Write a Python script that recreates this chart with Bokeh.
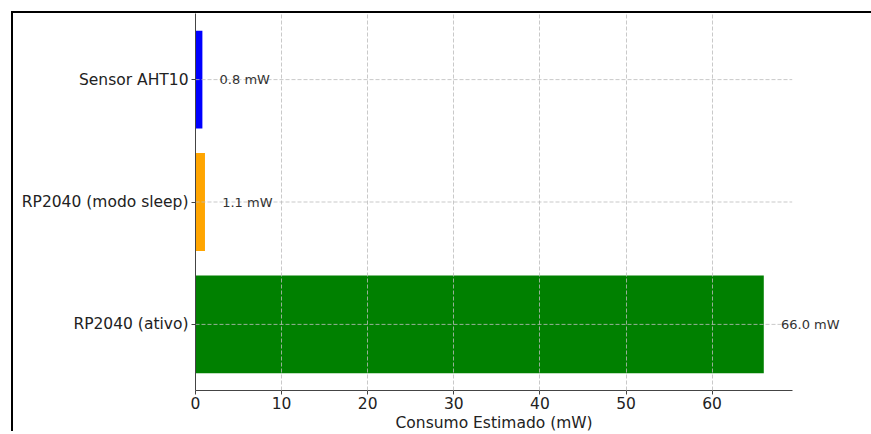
from bokeh.plotting import figure
from bokeh.models import FactorRange, Range1d, LabelSet, ColumnDataSource, FixedTicker, Title
from bokeh.core.properties import value
from bokeh.embed import file_html
from bokeh.resources import INLINE

categories = ["Sensor AHT10", "RP2040 (modo sleep)", "RP2040 (ativo)"]
consumo = [0.8, 1.1, 66.0]
colors = ["blue", "orange", "green"]
labels = [f"{v:.1f} mW" for v in consumo]
x_ticks = [0, 10, 20, 30, 40, 50, 60]
x_label = "Consumo Estimado (mW)"
X_MAX = 69.3      # axis limit (max * 1.05)
X_VIEW = 77.0     # extra room so value labels are not clipped

src = ColumnDataSource(dict(
    cat=categories,
    val=consumo,
    color=colors,
    label=labels,
    lx=[v + 2 for v in consumo],
    g0=[0] * len(categories),
    g1=[X_MAX] * len(categories),
))

FONT = "DejaVu Sans"

p = figure(
    frame_width=663, frame_height=377,
    y_range=FactorRange(factors=categories[::-1], range_padding=0.04,
                        range_padding_units="absolute"),
    x_range=Range1d(0, X_VIEW),
    output_backend="svg", toolbar_location=None,
    min_border_left=182, min_border_right=13, min_border_top=0, min_border_bottom=0,
)
p.margin = (11, 0, 0, 11)
p.styles = {"border-top": "2px solid black", "border-left": "2px solid black"}

p.hbar(y="cat", right="val", left=0, height=0.8, color="color", line_color=None, source=src)

# horizontal grid lines limited to the axis extent
p.segment(x0="g0", x1="g1", y0="cat", y1="cat", source=src,
          line_color="#bbbbbb", line_dash="4 2", line_alpha=0.8, line_width=1)

p.add_layout(LabelSet(x="lx", y="cat", text="label", source=src,
                      text_baseline="middle", text_align="left",
                      text_font_size="13px", text_color="#333333",
                      text_font=value(FONT)))

p.outline_line_color = None
p.ygrid.grid_line_color = None
p.xgrid.grid_line_color = "#bbbbbb"
p.xgrid.grid_line_dash = "4 2"
p.xgrid.grid_line_alpha = 0.8
p.xgrid.level = "overlay"

p.xaxis.ticker = FixedTicker(ticks=x_ticks)
p.xaxis.bounds = (0, X_MAX)
for ax in (p.xaxis, p.yaxis):
    ax.axis_line_color = "#444444"
    ax.major_tick_line_color = "#444444"
    ax.major_tick_out = 4
    ax.major_tick_in = 0
    ax.minor_tick_line_color = None
    ax.major_label_text_font = FONT
    ax.major_label_text_font_size = "15.5px"
    ax.major_label_text_color = "#222222"
p.xaxis.major_label_standoff = 2
p.yaxis.major_label_standoff = 3

# axis title centred under the 0..X_MAX axis extent
p.add_layout(Title(text=x_label, align="left", offset=200, standoff=0,
                   text_font=FONT, text_font_size="15.5px", text_font_style="normal",
                   text_color="#222222"), "below")

open("out.html", "w").write(file_html(p, INLINE))
